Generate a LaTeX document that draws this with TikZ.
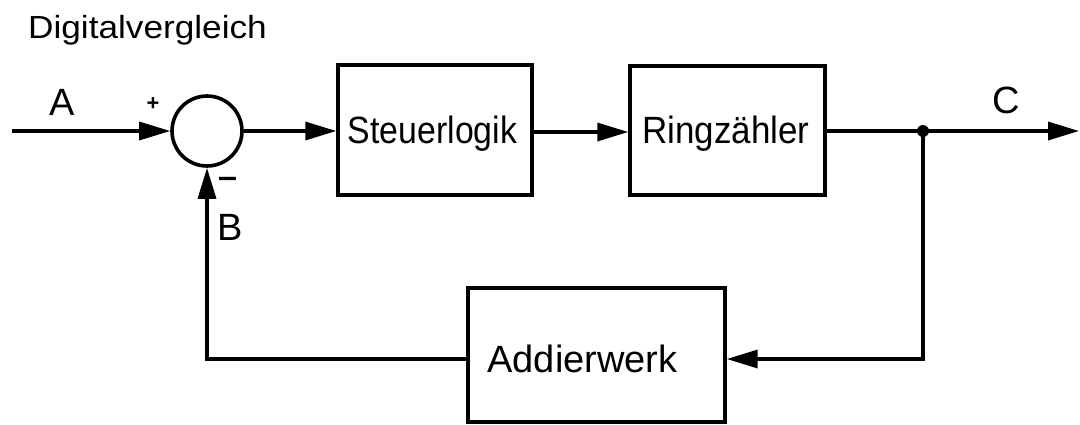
\documentclass[tikz,border=0pt]{standalone}
\usepackage{fontspec}
\setmainfont{Liberation Sans}
\usetikzlibrary{arrows.meta}
\begin{document}
\begin{tikzpicture}[x=1pt,y=-1pt,
  line width=3.4pt,
  blk/.style={draw,rectangle,line width=3.4pt,inner sep=0pt},
  lbl/.style={font=\fontsize{38}{42}\selectfont,inner sep=0pt,anchor=base},
  arr/.style={-{Triangle[length=31pt,width=18pt]}},
  ]
\useasboundingbox (0,0) rectangle (1080,424);
\node[inner sep=0pt,anchor=base] (title) at (147.5,38) {\fontsize{32}{34}\selectfont\scalebox{1.1}[1]{Digitalvergleich}};
\node[draw,circle,line width=3.6pt,minimum size=70pt,inner sep=0pt] (sum) at (207,131) {};
\node[blk,minimum width=194pt,minimum height=130pt] (steuer) at (435,130) {};
\node[lbl] (steuertxt) at (432.5,143) {\scalebox{0.89}[1]{Steuerlogik}};
\node[blk,minimum width=195pt,minimum height=129pt] (ring) at (727.5,130.5) {};
\node[lbl] (ringtxt) at (726,143) {\scalebox{0.92}[1]{Ringzähler}};
\node[blk,minimum width=257pt,minimum height=134pt] (add) at (596.5,355) {};
\node[lbl] (addtxt) at (582.5,372) {Addierwerk};
\coordinate (in) at (12,131);
\coordinate (out) at (1079,131);
\coordinate (junc) at (923,131);
\coordinate (fb) at (923,359);
\node[lbl] (A) at (62,115) {A};
\node[lbl] (C) at (1006,113) {C};
\node[lbl] (B) at (230,240) {B};
\node[font=\fontsize{22}{24}\selectfont\bfseries,inner sep=0pt] (plus) at (153,104) {+};
\node[lbl,anchor=center] (minus) at (228,184) {\scalebox{0.8}[1.3]{–}};
\draw[arr] (in) -- (sum.west);
\draw[arr] (sum.east) -- (steuer.west |- sum.east);
\draw[arr] (steuer.east |- 0,132) -- (ring.west |- 0,132);
\draw[arr] (ring.east |- junc) -- (out);
\fill (junc) circle (6pt);
\draw[arr] (junc) -- (fb) -- (add.east |- fb);
\draw[arr] (add.west |- fb) -| (sum.south);
\end{tikzpicture}
\end{document}
